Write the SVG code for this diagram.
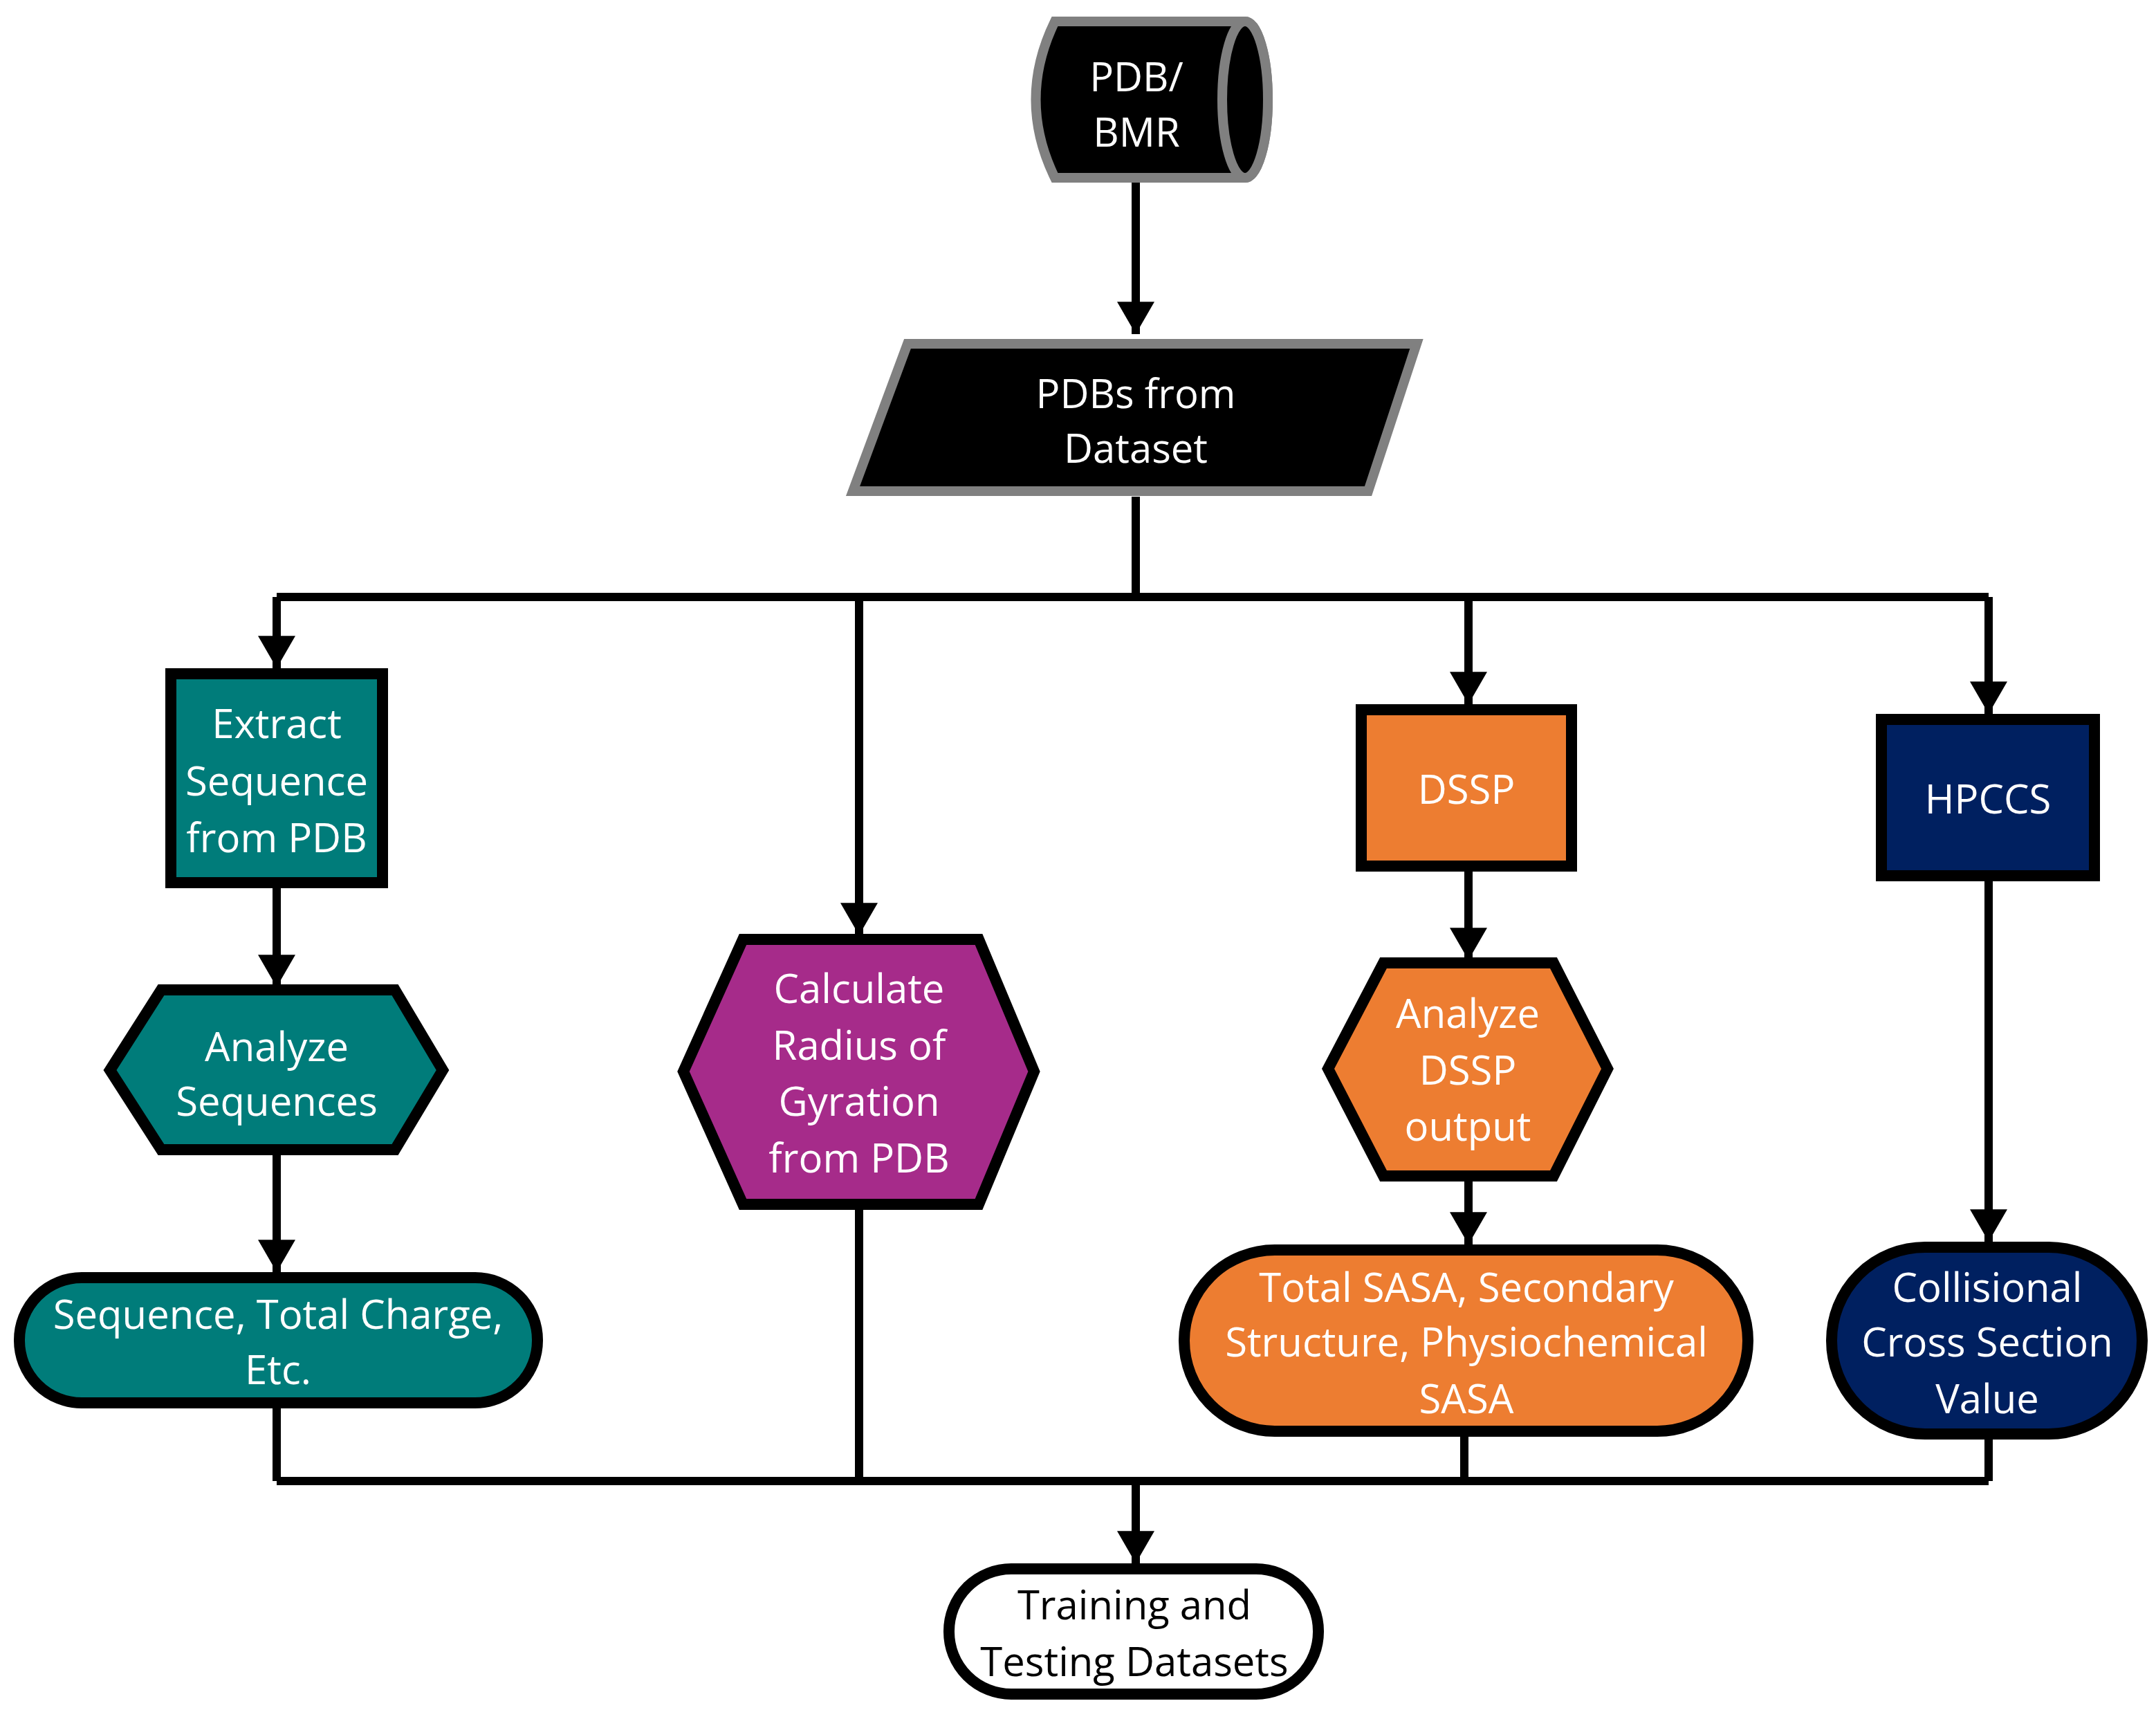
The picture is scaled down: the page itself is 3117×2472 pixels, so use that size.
<svg xmlns="http://www.w3.org/2000/svg" width="3117" height="2472" viewBox="0 0 3117 2472">
<style>
text{font-family:"Open Sans","Liberation Sans",sans-serif;font-size:58px;fill:#fff;text-anchor:middle;dominant-baseline:central}
.n{stroke:#000;stroke-width:16}
.c{fill:none;stroke:#000;stroke-width:12}
.teal{fill:#007C7A}.pur{fill:#A62B8A}.org{fill:#ED7D31}.navy{fill:#002060}
</style>
<defs><marker id="ah" markerUnits="userSpaceOnUse" markerWidth="60" markerHeight="54" refX="52" refY="30" orient="auto" viewBox="0 0 52 60"><path d="M0,0L52,30L0,60Z" fill="#000"/></marker></defs>
<g id="connectors" class="c">
<path d="M1642,264V483" marker-end="url(#ah)"/>
<path d="M1642,718V863"/>
<path d="M400,863H2875"/>
<path d="M400,863V966" marker-end="url(#ah)"/>
<path d="M1242,863V1352" marker-end="url(#ah)"/>
<path d="M2123,863V1018" marker-end="url(#ah)"/>
<path d="M2875,863V1032" marker-end="url(#ah)"/>
<path d="M400,1284V1427" marker-end="url(#ah)"/>
<path d="M400,1666V1839" marker-end="url(#ah)"/>
<path d="M2123,1260V1388" marker-end="url(#ah)"/>
<path d="M2123,1706V1799" marker-end="url(#ah)"/>
<path d="M2875,1274V1795" marker-end="url(#ah)"/>
<path d="M400,2036V2141M1242,1741V2141M2117,2077V2141M2875,2081V2141"/>
<path d="M400,2141H2875"/>
<path d="M1642,2141V2260" marker-end="url(#ah)"/>
</g>
<g id="pdb_bmr">
<path d="M1525,31L1800,31A33,113 0 0 1 1800,257L1525,257Q1470,144 1525,31Z" fill="#000" stroke="#808080" stroke-width="14"/>
<ellipse cx="1800" cy="144" rx="33" ry="113" fill="#000" stroke="#808080" stroke-width="14"/>
<text x="1643" y="109">PDB/</text><text x="1643" y="189">BMR</text>
</g>
<g id="pdbs_dataset">
<path d="M1312,497H2048L1978,710H1233Z" fill="#000" stroke="#808080" stroke-width="14"/>
<text x="1642" y="567">PDBs from</text><text x="1642" y="646">Dataset</text>
</g>
<g id="extract">
<rect x="247" y="974" width="306" height="302" class="n teal"/>
<text x="400" y="1044">Extract</text><text x="400" y="1127">Sequence</text><text x="400" y="1209">from PDB</text>
</g>
<g id="analyze_seq">
<path d="M159,1547L233,1431H571L640,1547L571,1662H233Z" class="n teal"/>
<text x="400" y="1511">Analyze</text><text x="400" y="1590">Sequences</text>
</g>
<g id="seq_out">
<rect x="28" y="1847" width="749" height="181" rx="90" class="n teal"/>
<text x="402" y="1898">Sequence, Total Charge,</text><text x="402" y="1978">Etc.</text>
</g>
<g id="radius">
<path d="M988,1549L1074,1358H1415L1495,1549L1415,1741H1074Z" class="n pur"/>
<text x="1242" y="1427">Calculate</text><text x="1242" y="1509">Radius of</text><text x="1242" y="1590">Gyration</text><text x="1242" y="1672">from PDB</text>
</g>
<g id="dssp">
<rect x="1968" y="1026" width="304" height="226" class="n org"/>
<text x="2120" y="1139">DSSP</text>
</g>
<g id="analyze_dssp">
<path d="M1920,1545L2000,1392H2246L2324,1545L2246,1700H2000Z" class="n org"/>
<text x="2122" y="1463">Analyze</text><text x="2122" y="1545">DSSP</text><text x="2122" y="1626">output</text>
</g>
<g id="sasa_out">
<rect x="1712" y="1807" width="815" height="262" rx="131" class="n org"/>
<text x="2120" y="1859">Total SASA, Secondary</text><text x="2120" y="1938">Structure, Physiochemical</text><text x="2120" y="2020">SASA</text>
</g>
<g id="hpccs">
<rect x="2720" y="1040" width="308" height="226" class="n navy"/>
<text x="2874" y="1153">HPCCS</text>
</g>
<g id="ccs_out">
<rect x="2648" y="1803" width="449" height="270" rx="135" class="n navy"/>
<text x="2873" y="1859">Collisional</text><text x="2873" y="1938">Cross Section</text><text x="2873" y="2020">Value</text>
</g>
<g id="training">
<rect x="1372" y="2268" width="534" height="181" rx="90" fill="#fff" class="n"/>
<text x="1640" y="2318" style="fill:#000">Training and</text><text x="1640" y="2400" style="fill:#000">Testing Datasets</text>
</g>
</svg>
